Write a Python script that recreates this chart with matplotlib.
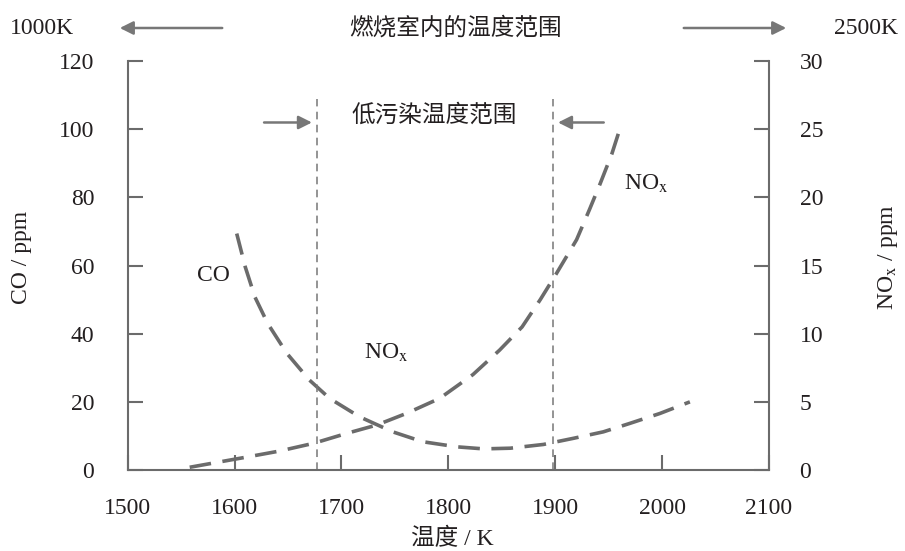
import matplotlib.pyplot as plt
import numpy as np

plt.rcParams['font.family'] = ['Liberation Serif', 'Noto Sans CJK SC']
plt.rcParams['mathtext.fontset'] = 'stix'

# CO (left axis, ppm)
co_T = [1602, 1610, 1619, 1631, 1649, 1670, 1689, 1717, 1748, 1776, 1808,
        1833, 1858, 1889, 1917, 1945, 1970, 1998, 2026]
co_ppm = [69.4, 59.6, 50.8, 43.0, 34.2, 26.4, 21.0, 15.6, 11.2, 8.3, 6.8,
          6.2, 6.4, 7.5, 9.3, 11.2, 13.7, 16.6, 20.0]

# NOx (right axis, ppm)
nox_T = [1558, 1605, 1642, 1674, 1705, 1733, 1761, 1792, 1823, 1848, 1869,
         1886, 1901, 1920, 1932, 1942, 1953, 1962]
nox_ppm = [0.2, 0.86, 1.39, 1.96, 2.69, 3.3, 4.16, 5.26, 7.0, 8.8, 10.5,
           12.5, 14.4, 16.9, 19.1, 21.0, 23.2, 25.4]

low_range = [1677, 1898]

gray = '#6b6b6b'
txt = '#231f20'
fs = 17

fig = plt.figure(figsize=(9.05, 5.51), dpi=100)
ax = fig.add_axes([0.1411, 0.147, 0.7086, 0.742])
ax2 = ax.twinx()

ax.plot(co_T, co_ppm, color=gray, lw=2.6, linestyle=(0, (6, 3.2)))
ax2.plot(nox_T, nox_ppm, color=gray, lw=2.6, linestyle=(0, (6, 3.2)))

for t in low_range:
    ax.plot([t, t], [0, 109], color='#777777', lw=1.1, linestyle=(0, (5, 3.5)))

ax.set_xlim(1500, 2100)
ax.set_ylim(0, 120)
ax2.set_ylim(0, 30)
ax.set_xticks([1500, 1600, 1700, 1800, 1900, 2000, 2100])
ax.set_yticks([0, 20, 40, 60, 80, 100, 120])
ax2.set_yticks([0, 5, 10, 15, 20, 25, 30])

for a in (ax, ax2):
    a.spines['top'].set_visible(False)
    for s in ('left', 'right', 'bottom'):
        a.spines[s].set_color(gray)
        a.spines[s].set_linewidth(1.5)
ax.spines['right'].set_visible(False)
ax2.spines['left'].set_visible(False)
ax2.spines['bottom'].set_visible(False)

ax.tick_params(axis='x', direction='in', length=11, width=1.5, color=gray,
               labelsize=fs, labelcolor=txt, pad=20)
ax.tick_params(axis='y', direction='in', length=11, width=1.5, color=gray,
               labelsize=fs, labelcolor=txt, pad=24)
ax2.tick_params(axis='y', direction='in', length=11, width=1.5, color=gray,
                labelsize=fs, labelcolor=txt, pad=22)

ax.set_ylabel('CO / ppm', fontsize=fs, color=txt, va='center', ha='center')
ax.yaxis.set_label_coords(-0.165, 0.52)
ax2.set_ylabel(r'NO$_{\rm x}$ / ppm', fontsize=fs, color=txt, va='center', ha='center')
ax2.yaxis.set_label_coords(1.186, 0.52)
ax.set_xlabel('温度 / K', fontsize=fs, color=txt, va='center', ha='center')
ax.xaxis.set_label_coords(0.506, -0.168)

# curve labels
ax.text(1580, 57, 'CO', fontsize=fs, color=txt, ha='center', va='center')
ax.text(1742, 34.5, r'NO$_{\rm x}$', fontsize=fs, color=txt, ha='center', va='center')
ax.text(1985, 84, r'NO$_{\rm x}$', fontsize=fs, color=txt, ha='center', va='center')

# low pollution range
arrow = dict(arrowstyle='-|>', color='#777777', lw=1.8, mutation_scale=20)
ax.annotate('', xy=(low_range[0] - 2, 102), xytext=(1625, 102), arrowprops=arrow)
ax.annotate('', xy=(low_range[1] + 2, 102), xytext=(1948, 102), arrowprops=arrow)
ax.text(1787, 104, '低污染温度范围', fontsize=fs, color=txt, ha='center', va='center')

# combustion chamber range (top)
y_top = 1 - 28 / 551
fig.text(42 / 905, y_top, '1000K', fontsize=fs, color=txt, ha='center', va='center')
fig.text(866 / 905, y_top, '2500K', fontsize=fs, color=txt, ha='center', va='center')
fig.text(455 / 905, y_top, '燃烧室内的温度范围', fontsize=fs, color=txt, ha='center', va='center')
ax.annotate('', xy=(117 / 905, y_top), xytext=(225 / 905, y_top),
            xycoords='figure fraction', textcoords='figure fraction', arrowprops=arrow)
ax.annotate('', xy=(789 / 905, y_top), xytext=(681 / 905, y_top),
            xycoords='figure fraction', textcoords='figure fraction', arrowprops=arrow)

fig.savefig('out.png', dpi=100)
